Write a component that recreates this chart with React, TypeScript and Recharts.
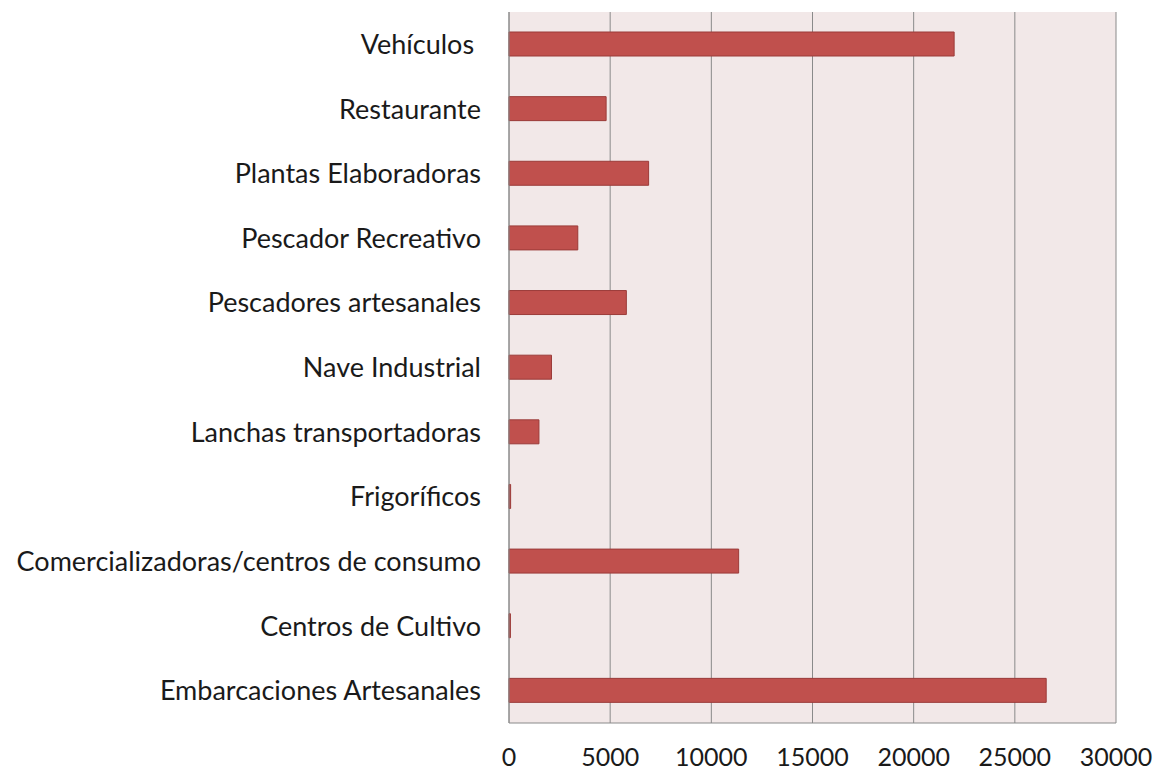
import { Bar, BarChart, CartesianGrid, XAxis, YAxis } from "recharts";

const categories = [
  "Vehículos\u00a0",
  "Restaurante",
  "Plantas Elaboradoras",
  "Pescador Recreativo",
  "Pescadores artesanales",
  "Nave Industrial",
  "Lanchas transportadoras",
  "Frigoríficos",
  "Comercializadoras/centros de consumo",
  "Centros de Cultivo",
  "Embarcaciones Artesanales",
];

const values = [22000, 4800, 6900, 3400, 5800, 2100, 1480, 80, 11350, 70, 26550];

const xTicks = [0, 5000, 10000, 15000, 20000, 25000, 30000];

const data = categories.map((name, i) => ({ name, value: values[i] }));

const FONT = "Lato, 'Open Sans', sans-serif";

export default function App() {
  return (
    <div style={{ position: "fixed", left: 0, top: 0, background: "#fff" }}>
      <BarChart
        width={1157}
        height={773}
        data={data}
        layout="vertical"
        margin={{ top: 12, right: 41, left: 0, bottom: 20 }}
      >
        <CartesianGrid
          horizontal={false}
          stroke="#8a8a8a"
          fill="#f2e8e8"
          fillOpacity={1}
        />
        <XAxis
          type="number"
          domain={[0, 30000]}
          ticks={xTicks}
          interval={0}
          height={30}
          tickLine={false}
          axisLine={{ stroke: "#8a8a8a" }}
          tick={{ fontSize: 25, fill: "#1a1a1a", fontFamily: FONT, dy: 17 }}
        />
        <YAxis
          type="category"
          dataKey="name"
          width={509}
          tickLine={false}
          axisLine={{ stroke: "#8a8a8a" }}
          tick={{ fontSize: 27, fill: "#1a1a1a", fontFamily: FONT, dx: -20 }}
        />
        <Bar
          dataKey="value"
          fill="#c0504d"
          stroke="#9b3b39"
          strokeWidth={1}
          barSize={24}
          isAnimationActive={false}
        />
      </BarChart>
    </div>
  );
}
